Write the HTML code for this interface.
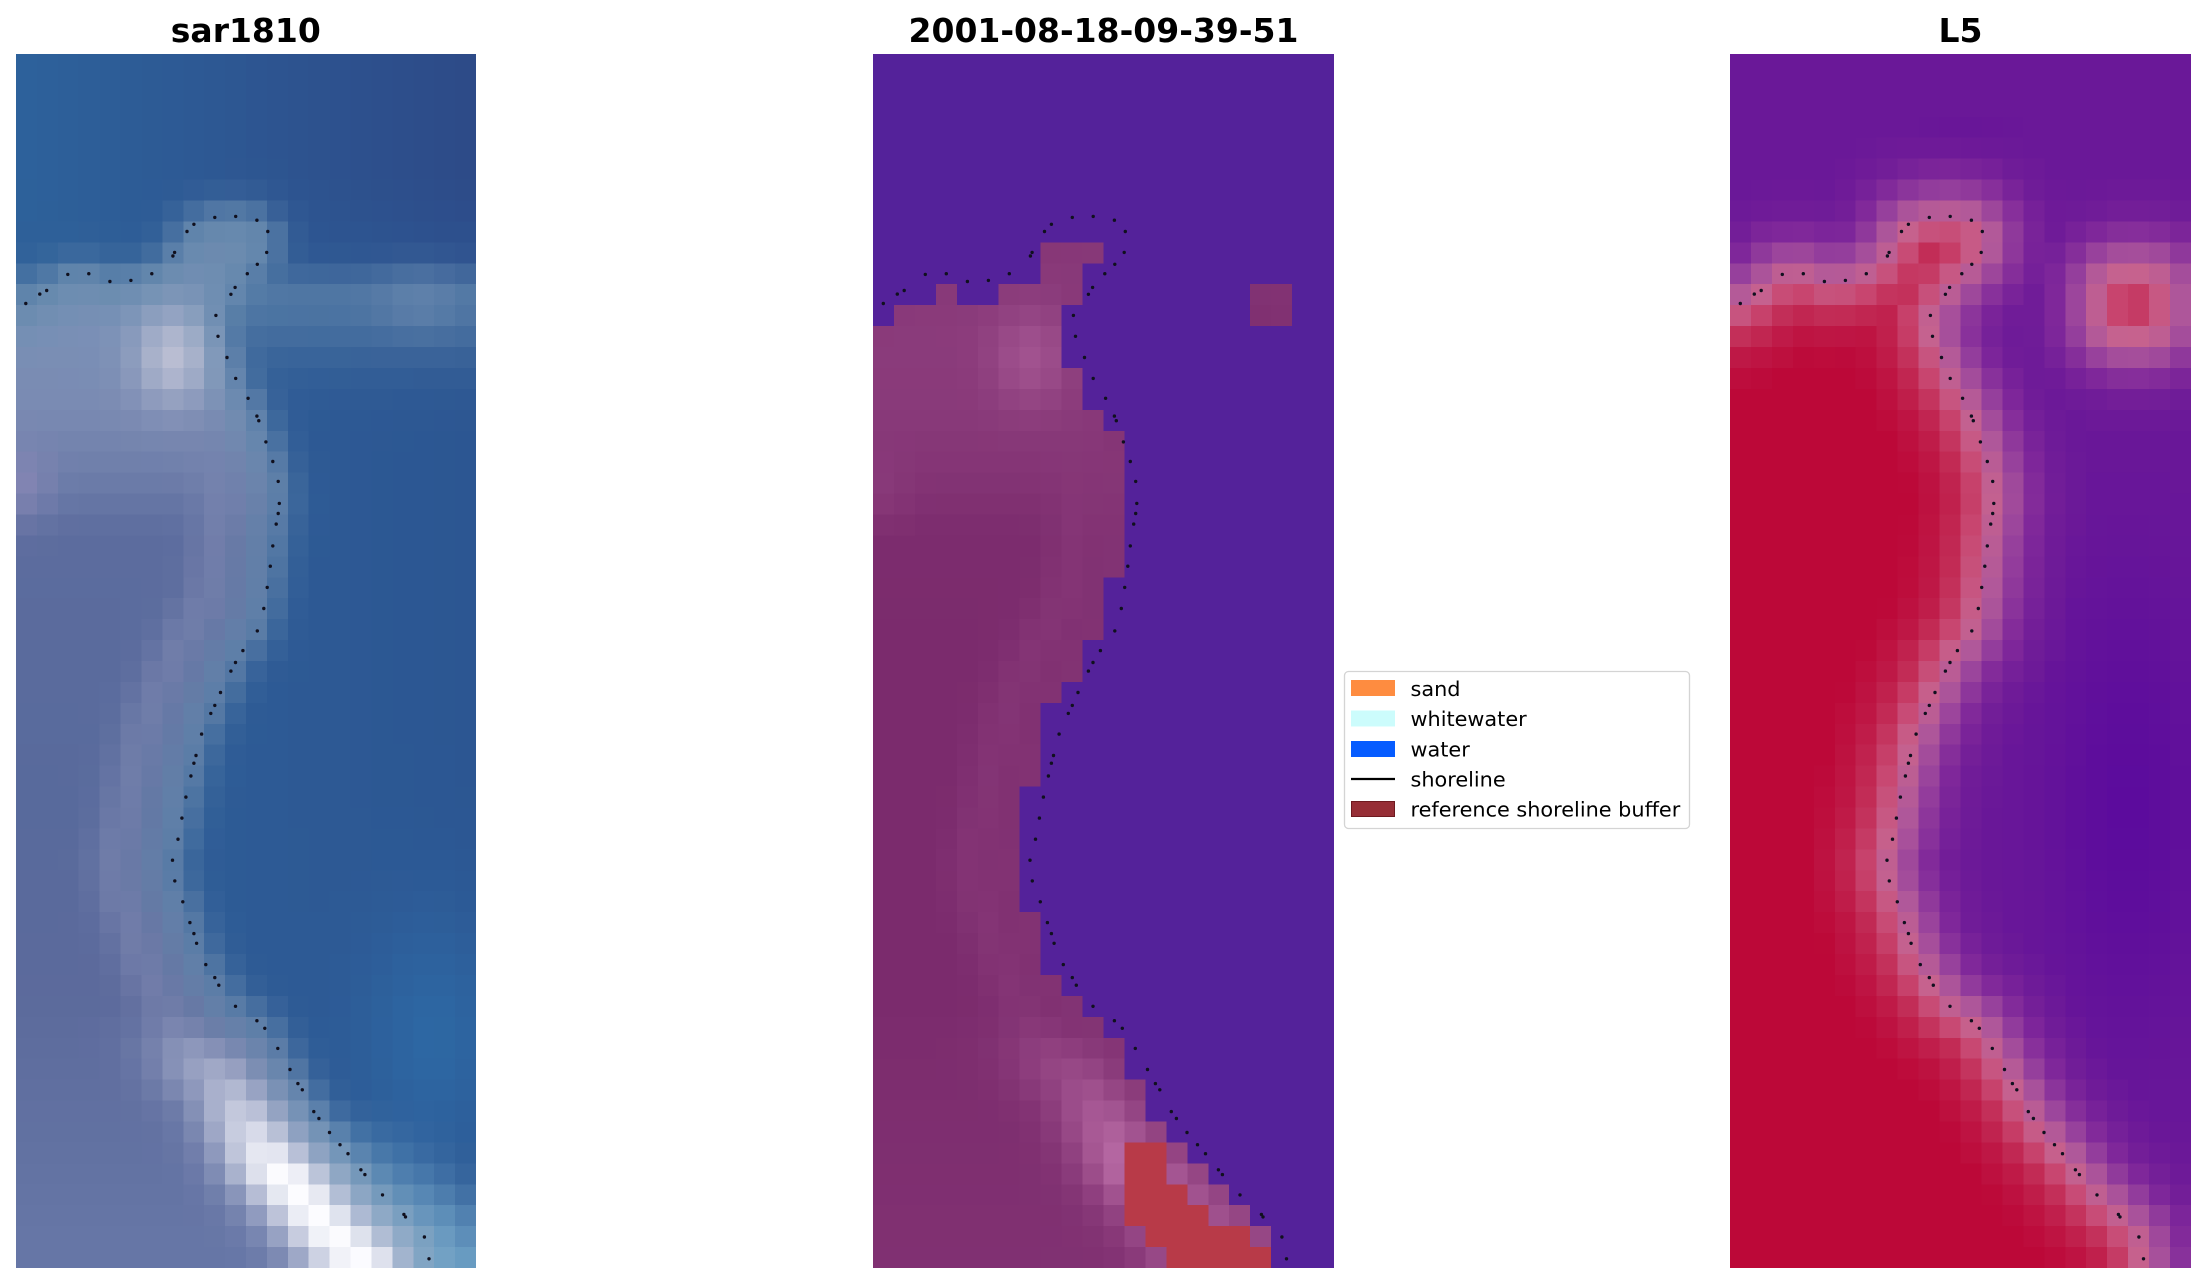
<!DOCTYPE html>
<html>
<head>
<meta charset="utf-8">
<style>
html,body{margin:0;padding:0;background:#fff;}
body{width:2206px;height:1283px;position:relative;overflow:hidden;}
canvas.p{position:absolute;top:53.5px;width:460.6px;height:1214px;image-rendering:pixelated;image-rendering:crisp-edges;}
#c1{left:15.5px;background:#3e6698;}
#c2{left:873px;background:#66287e;}
#c3{left:1730px;background:#8e1c6a;}
svg#ov{position:absolute;left:0;top:0;}
</style>
</head>
<body>
<canvas class="p" id="c1" width="22" height="58"></canvas>
<canvas class="p" id="c2" width="22" height="58"></canvas>
<canvas class="p" id="c3" width="22" height="58"></canvas>
<svg id="ov" width="2206" height="1283" xmlns="http://www.w3.org/2000/svg">
  <g font-family="DejaVu Sans, Liberation Sans, sans-serif" font-weight="bold" font-size="33" fill="#000" text-anchor="middle">
    <text x="245.8" y="42">sar1810</text>
    <text x="1103.5" y="42">2001-08-18-09-39-51</text>
    <text x="1960.5" y="42">L5</text>
  </g>
  <g>
    <rect x="1344.5" y="671.5" width="345" height="157" rx="4" ry="4" fill="#ffffff" stroke="#d4d4d4" stroke-width="1.3"/>
    <rect x="1351" y="680" width="44" height="16" fill="#fe8c40"/>
    <rect x="1351" y="710.5" width="44" height="16" fill="#ccfcfc"/>
    <rect x="1351" y="741" width="44" height="16" fill="#065cff"/>
    <line x1="1351" y1="779" x2="1395" y2="779" stroke="#000" stroke-width="2.2"/>
    <rect x="1351.5" y="801.5" width="43" height="15" fill="#962e36" stroke="#6e1a20" stroke-width="1"/>
    <g font-family="DejaVu Sans, Liberation Sans, sans-serif" font-size="20.8" fill="#000">
      <text x="1410.5" y="696">sand</text>
      <text x="1410.5" y="726">whitewater</text>
      <text x="1410.5" y="756.5">water</text>
      <text x="1410.5" y="786.5">shoreline</text>
      <text x="1410.5" y="816.5">reference shoreline buffer</text>
    </g>
  </g>
  <g id="dots" fill="#10101e"></g>
</svg>
<script>
(function(){
var D=[[0.49,11.94],[1.16,11.49],[1.49,11.32],[2.50,10.55],[3.50,10.52],[4.51,10.89],[5.51,10.84],[6.51,10.52],[7.52,9.67],[7.60,9.50],[8.19,8.50],[8.52,8.16],[9.52,7.83],[10.52,7.78],[11.53,7.96],[12.05,8.50],[12.00,9.50],[11.55,10.07],[11.07,10.52],[10.49,11.17],[10.29,11.50],[9.57,12.51],[9.67,13.51],[10.10,14.52],[10.52,15.52],[11.11,16.47],
[11.53,17.32],[11.62,17.54],[11.96,18.55],[12.29,19.49],[12.55,20.44],[12.60,21.49],[12.55,21.97],[12.45,22.48],[12.29,23.52],[12.17,24.49],[12.02,25.50],[11.86,26.51],[11.55,27.58],[10.86,28.52],[10.51,29.09],[10.29,29.50],[9.79,30.52],[9.52,31.14],[9.33,31.52],[8.89,32.51],[8.62,33.53],[8.52,33.90],[8.38,34.51],[8.14,35.52],[7.95,36.52],[7.76,37.53],[7.50,38.53],
[7.61,39.52],[7.99,40.52],[8.33,41.51],[8.52,42.04],[8.65,42.50],[9.09,43.52],[9.52,44.14],[9.71,44.50],[10.51,45.51],[11.53,46.20],[11.91,46.56],[12.53,47.52],[13.11,48.53],[13.49,49.20],[13.70,49.50],[14.25,50.54],[14.49,50.87],[15.00,51.54],[15.50,52.12],[15.88,52.55],[16.50,53.32],[16.69,53.55],[17.53,54.52],[18.55,55.45],[18.63,55.57],[19.53,56.53],[19.75,57.57]];
var path=[[-1,12.3]].concat(D).concat([[20.3,59.5]]);
var poly=path.concat([[-1,59.5]]);
function segDist(px,py,ax,ay,bx,by){var dx=bx-ax,dy=by-ay,l=dx*dx+dy*dy,t=l?((px-ax)*dx+(py-ay)*dy)/l:0;t=Math.max(0,Math.min(1,t));var qx=ax+t*dx-px,qy=ay+t*dy-py;return Math.sqrt(qx*qx+qy*qy);}
function inside(px,py){var ins=false;for(var i=0,j=poly.length-1;i<poly.length;j=i++){var xi=poly[i][0],yi=poly[i][1],xj=poly[j][0],yj=poly[j][1];if(((yi>py)!=(yj>py))&&(px<(xj-xi)*(py-yi)/(yj-yi)+xi))ins=!ins;}return ins;}
function sd(px,py){var m=1e9;for(var i=0;i<path.length-1;i++){m=Math.min(m,segDist(px,py,path[i][0],path[i][1],path[i+1][0],path[i+1][1]));}return inside(px,py)?-m:m;}
function h(s){return [parseInt(s.slice(1,3),16),parseInt(s.slice(3,5),16),parseInt(s.slice(5,7),16)];}
function cl(t){return Math.max(0,Math.min(1,t));}
function mix(a,b,t){t=cl(t);return [a[0]+(b[0]-a[0])*t,a[1]+(b[1]-a[1])*t,a[2]+(b[2]-a[2])*t];}
function stops(S,v){if(v<=S[0][0])return h(S[0][1]);for(var i=1;i<S.length;i++){if(v<=S[i][0])return mix(h(S[i-1][1]),h(S[i][1]),(v-S[i-1][0])/(S[i][0]-S[i-1][0]));}return h(S[S.length-1][1]);}
function E(v){return Math.exp(v);}

var Dg=[],Db=[];
for(var r=0;r<58;r++){Dg.push([]);Db.push([]);for(var c=0;c<22;c++){var x=c+0.5,y=r+0.5;var d=sd(x,y);Dg[r].push(d);
 var bx=Math.max(0,Math.abs(x-19.25)-0.5),by=Math.max(0,Math.abs(y-12)-0.5);var dbs=Math.sqrt(bx*bx+by*by)-1.2;Db[r].push(Math.min(d,dbs));}}

var LS=[[9,'#6a88ae'],[13,'#7a90b6'],[17,'#7a8ab2'],[20,'#6e7eaa'],[23,'#5c6c9e'],[36,'#586a9c'],[45,'#5c6a9c'],[57,'#6676a6']];
function p1(c,r){var x=c+0.5,y=r+0.5,d=Dg[r][c];
 var top=mix(h('#2d629b'),h('#2d4a88'),x/22);
 var mid=mix(h('#2e5f98'),h('#2c5692'),x/22);
 var W=mix(top,mid,(y-6)/6);
 W=mix(W,h('#2e6eaa'),0.7*E(-Math.pow((x-20)/3.5,2)-Math.pow((y-47)/6,2)));
 if(y>8){var s=y<11.5?1.2:3.0;W=mix(W,h('#5a80a8'),0.75*E(-Math.pow((y-11.5)/s,2)));}
 W=mix(W,h('#6a88b0'),0.6*E(-Math.pow((x-19.3)/2.0,2)-Math.pow((y-11.8)/1.5,2)));
 if(y>50){W=mix(W,h('#70a4c8'),((y-50)/7)*E(-Math.pow((d-1.2)/2.2,2))*0.85);}
 var L=stops(LS,y);
 L=mix(L,h('#8a88b6'),0.7*E(-Math.pow((x-0.5)/1.2,2)-Math.pow((y-20.5)/1.8,2)));
 var ss=cl((d+1.2)/2.2);ss=ss*ss*(3-2*ss);
 var col=mix(L,W,ss);
 var S=mix(h('#6a8eb0'),h('#88b4cc'),(y-48)/8);
 col=mix(col,S,0.62*E(-Math.pow((d+0.4)/1.3,2)));
 col=mix(col,h('#8a92b8'),0.45*cl((y-18)/4)*E(-Math.pow((d+2.8)/1.2,2)));
 col=mix(col,h('#bcc0d4'),0.95*E(-Math.pow((x-7.5)/1.8,2)-Math.pow((y-14.5)/2.2,2)));
 var a=cl((y-46)/7.5);var sg=d>-3.0?1.7:2.0;
 col=mix(col,h('#fcfcff'),a*E(-Math.pow((d+3.0)/sg,2)));
 return col;}

var S3=[[-4,'#bc0838'],[-2.6,'#be1644'],[-1.6,'#c22c56'],[-0.9,'#c84670'],[-0.2,'#c6628e'],[0.5,'#b0589a'],[1.2,'#96409c'],[2.0,'#80289a'],[3.0,'#701c98']];
function p3(c,r){var x=c+0.5,y=r+0.5,d=Db[r][c];
 var far=h('#6a1898');
 far=mix(far,h('#58089e'),0.8*E(-Math.pow((x-19)/4,2)-Math.pow((y-36)/11,2)));
 far=mix(far,h('#600c9a'),0.5*E(-Math.pow((x-11)/2,2)-Math.pow((y-4.5)/1.2,2)));
 if(d>=3)return mix(h('#701c98'),far,(d-3)/1.5);
 return stops(S3,d);}

var land2={};
function setL(r,a,b){for(var c=a;c<b;c++)land2[r+'_'+c]=1;}
setL(9,8,11);setL(10,8,10);setL(11,3,4);setL(11,6,10);setL(11,18,20);setL(12,1,9);setL(12,18,20);
setL(13,0,9);setL(14,0,9);setL(15,0,10);setL(16,0,10);setL(17,0,11);
for(var r=18;r<=24;r++)setL(r,0,12);
for(var r=25;r<=27;r++)setL(r,0,11);
setL(28,0,10);setL(29,0,10);setL(30,0,9);
for(var r=31;r<=34;r++)setL(r,0,8);
for(var r=35;r<=40;r++)setL(r,0,7);
for(var r=41;r<=43;r++)setL(r,0,8);
setL(44,0,9);setL(45,0,10);setL(46,0,11);setL(47,0,12);setL(48,0,12);setL(49,0,13);setL(50,0,13);
setL(51,0,14);setL(52,0,15);setL(53,0,16);setL(54,0,17);setL(55,0,18);setL(56,0,19);setL(57,0,19);
var red2={52:[12,13],53:[12,13],54:[12,14],55:[12,15],56:[13,17],57:[14,18]};

var P1=[];
for(var r=0;r<58;r++){P1.push([]);for(var c=0;c<22;c++)P1[r].push(p1(c,r));}
function p2(c,r){
 if(!land2[r+'_'+c])return h('#54229a');
 var rr=red2[r];if(rr&&c>=rr[0]&&c<=rr[1])return h('#b83a48');
 var p=P1[r][c];var lum=0.299*p[0]+0.587*p[1]+0.114*p[2];
 return mix(h('#7a2a6c'),h('#b86aa4'),(lum-105)/(240-105));}

function draw(id,fn){var cv=document.getElementById(id);var ctx=cv.getContext('2d');var im=ctx.createImageData(22,58);
 for(var r=0;r<58;r++)for(var c=0;c<22;c++){var col=fn(c,r);var i=(r*22+c)*4;im.data[i]=Math.round(col[0]);im.data[i+1]=Math.round(col[1]);im.data[i+2]=Math.round(col[2]);im.data[i+3]=255;}
 ctx.putImageData(im,0,0);}
draw('c1',function(c,r){return P1[r][c];});
draw('c2',p2);
draw('c3',p3);

var g=document.getElementById('dots');var NS='http://www.w3.org/2000/svg';
var X0=[15.5,873,1730],s=20.936;
for(var k=0;k<3;k++){for(var i=0;i<D.length;i++){var e=document.createElementNS(NS,'circle');
 e.setAttribute('cx',(X0[k]+D[i][0]*s).toFixed(1));e.setAttribute('cy',(53.5+D[i][1]*s).toFixed(1));e.setAttribute('r','1.7');g.appendChild(e);}}
})();
</script>
</body>
</html>
